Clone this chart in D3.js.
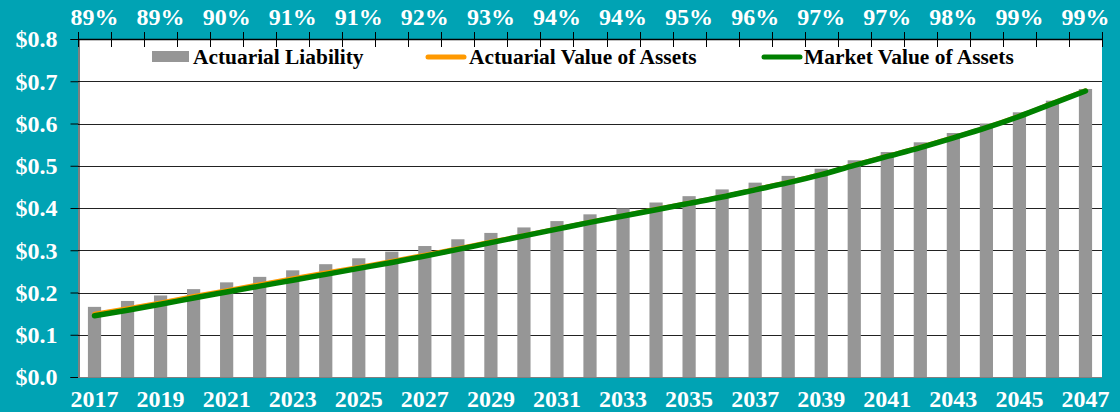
<!DOCTYPE html>
<html>
<head>
<meta charset="utf-8">
<script src="https://cdn.jsdelivr.net/npm/d3@7"></script>
<style>
  body { margin: 0; background: #00a3b4; }
  svg { display: block; }
  text { font-family: "Liberation Serif", "Times New Roman", serif; font-weight: bold; }
</style>
</head>
<body>
<script>
// chart size and plot box
const w = 1120;
const h = 412;
const plotLeft = 78, plotRight = 1102, plotTop = 39, plotBottom = 377;

// the data
const years = [2017, 2018, 2019, 2020, 2021, 2022, 2023, 2024, 2025, 2026, 2027, 2028, 2029, 2030, 2031, 2032,
  2033, 2034, 2035, 2036, 2037, 2038, 2039, 2040, 2041, 2042, 2043, 2044, 2045, 2046, 2047];
const liability = [0.166, 0.180, 0.193, 0.208, 0.224, 0.237, 0.2525, 0.267, 0.281, 0.2966, 0.310, 0.326, 0.341,
  0.354, 0.369, 0.385, 0.399, 0.413, 0.428, 0.444, 0.460, 0.476, 0.493, 0.513, 0.5325, 0.5555, 0.5775, 0.600,
  0.6265, 0.654, 0.6817];
const actuarialAssets = [0.149, 0.162, 0.176, 0.191, 0.205, 0.219, 0.233, 0.247, 0.260, 0.274, 0.289, 0.304,
  0.320, 0.335, 0.351, 0.367, 0.382, 0.397, 0.412, 0.427, 0.444, 0.461, 0.480, 0.502, 0.523, 0.544, 0.567,
  0.591, 0.618, 0.648, 0.678];
const marketAssets = [0.145, 0.158, 0.172, 0.187, 0.201, 0.215, 0.229, 0.243, 0.257, 0.271, 0.286, 0.302,
  0.318, 0.334, 0.350, 0.366, 0.381, 0.396, 0.411, 0.426, 0.443, 0.460, 0.479, 0.501, 0.522, 0.543, 0.566,
  0.590, 0.617, 0.647, 0.677];
// funded ratio shown on top, every other year
const labelYears = [2017, 2019, 2021, 2023, 2025, 2027, 2029, 2031, 2033, 2035, 2037, 2039, 2041, 2043, 2045, 2047];
const fundedPct = ["89%", "89%", "90%", "91%", "91%", "92%", "93%", "94%", "94%", "95%", "96%", "97%", "97%",
  "98%", "99%", "99%"];
const yTicks = [0, 0.1, 0.2, 0.3, 0.4, 0.5, 0.6, 0.7, 0.8];

// scales
const x = d3.scaleBand().domain(years).range([plotLeft, plotRight]);
const bw = x.bandwidth();
const y = d3.scaleLinear().domain([0, 0.8]).range([plotBottom, plotTop]);
const edge = d3.scaleLinear().domain([0, years.length]).range([plotLeft, plotRight]);

const svg = d3.select("body").append("svg")
  .attr("width", w)
  .attr("height", h);

svg.append("rect").attr("width", w).attr("height", h).attr("fill", "#00a3b4");
svg.append("rect")
  .attr("x", plotLeft).attr("y", plotTop)
  .attr("width", plotRight - plotLeft).attr("height", plotBottom - plotTop)
  .attr("fill", "white");

// gridlines
svg.append("g").selectAll("line")
  .data(yTicks.slice(1))
  .enter()
  .append("line")
  .attr("x1", plotLeft).attr("x2", plotRight)
  .attr("y1", d => Math.round(y(d)) + 0.5).attr("y2", d => Math.round(y(d)) + 0.5)
  .attr("stroke", "#222")
  .attr("stroke-width", 1);

// y axis
const yAxis = svg.append("g")
  .attr("transform", `translate(${plotLeft + 0.5},0)`)
  .call(d3.axisLeft(y).tickValues(yTicks).tickFormat(d => "$" + d.toFixed(1)).tickSize(8).tickPadding(13));
yAxis.select(".domain").attr("stroke", "black");
yAxis.selectAll(".tick line").attr("stroke", "black");
yAxis.selectAll("text")
  .attr("fill", "white")
  .attr("font-size", 24)
  .attr("font-family", "'Liberation Serif', serif")
  .attr("font-weight", "bold")
  .attr("dy", "0.33em");

// bars
svg.append("g").selectAll("rect")
  .data(years)
  .enter()
  .append("rect")
  .attr("x", d => x(d) + bw * 0.3)
  .attr("width", bw * 0.4)
  .attr("y", (d, i) => y(liability[i]))
  .attr("height", (d, i) => plotBottom - y(liability[i]))
  .attr("fill", "#969696");

// bottom axis line
svg.append("line")
  .attr("x1", plotLeft).attr("x2", plotRight)
  .attr("y1", plotBottom + 0.5).attr("y2", plotBottom + 0.5)
  .attr("stroke", "#808080");

// lines
const line = d3.line()
  .x((d, i) => x(years[i]) + bw / 2)
  .y(d => y(d))
  .curve(d3.curveMonotoneX);

svg.append("path")
  .attr("d", line(actuarialAssets))
  .attr("fill", "none")
  .attr("stroke", "#ff9900")
  .attr("stroke-width", 4.5)
  .attr("stroke-linecap", "round");

svg.append("path")
  .attr("d", line(marketAssets))
  .attr("fill", "none")
  .attr("stroke", "#008000")
  .attr("stroke-width", 5.5)
  .attr("stroke-linecap", "round");

// top axis with crossing ticks
svg.append("line")
  .attr("x1", plotLeft).attr("x2", plotRight)
  .attr("y1", plotTop + 0.5).attr("y2", plotTop + 0.5)
  .attr("stroke", "black").attr("stroke-width", 1.5);
svg.append("g").selectAll("line")
  .data(d3.range(years.length + 1))
  .enter()
  .append("line")
  .attr("x1", d => Math.round(edge(d)) + 0.5).attr("x2", d => Math.round(edge(d)) + 0.5)
  .attr("y1", plotTop - 7).attr("y2", plotTop + 8)
  .attr("stroke", "black");

// funded ratio labels
svg.append("g").selectAll("text")
  .data(labelYears)
  .enter()
  .append("text")
  .attr("x", d => x(d) + bw / 2)
  .attr("y", 25)
  .attr("text-anchor", "middle")
  .attr("fill", "white")
  .attr("font-size", 24)
  .text((d, i) => fundedPct[i]);

// year labels
svg.append("g").selectAll("text")
  .data(labelYears)
  .enter()
  .append("text")
  .attr("x", d => x(d) + bw / 2)
  .attr("y", 407)
  .attr("text-anchor", "middle")
  .attr("fill", "white")
  .attr("font-size", 24)
  .text(d => d);

// legend
const legend = svg.append("g").attr("font-size", 21.4).attr("fill", "black");
legend.append("rect").attr("x", 152).attr("y", 51).attr("width", 37).attr("height", 11).attr("fill", "#969696");
legend.append("text").attr("x", 193).attr("y", 64).text("Actuarial Liability");
legend.append("line").attr("x1", 428).attr("x2", 464).attr("y1", 57).attr("y2", 57)
  .attr("stroke", "#ff9900").attr("stroke-width", 5).attr("stroke-linecap", "round");
legend.append("text").attr("x", 469).attr("y", 64).text("Actuarial Value of Assets");
legend.append("line").attr("x1", 764).attr("x2", 800).attr("y1", 57).attr("y2", 57)
  .attr("stroke", "#008000").attr("stroke-width", 5).attr("stroke-linecap", "round");
legend.append("text").attr("x", 804).attr("y", 64).text("Market Value of Assets");
</script>
</body>
</html>
